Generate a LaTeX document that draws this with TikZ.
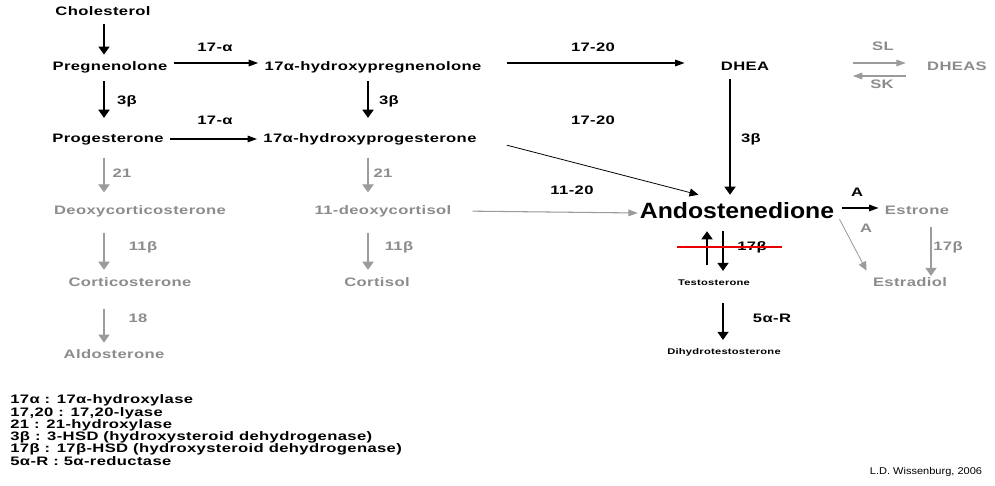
\documentclass[tikz,border=0pt]{standalone}
\usepackage{fontspec}
\setmainfont{Liberation Sans}
\newfontfamily\labelfont[FakeStretch=1.35,LetterSpace=3]{Liberation Sans}
\newfontfamily\bigfont[FakeStretch=1.12]{Liberation Sans}
\newfontfamily\creditfont[FakeStretch=1.12]{Liberation Sans}
\usetikzlibrary{arrows.meta}
\definecolor{fadetext}{RGB}{140,140,140}
\definecolor{fadeline}{RGB}{155,155,155}
\definecolor{strikered}{RGB}{235,0,0}
\tikzset{
  chem/.style={font=\labelfont\bfseries\fontsize{7}{8}\selectfont, inner sep=3.5pt, text height=5.2pt, text depth=1.5pt},
  fadechem/.style={chem, text=fadetext},
  bigchem/.style={font=\bigfont\bfseries\fontsize{12.6}{14}\selectfont, inner xsep=1pt, inner ysep=4.2pt, text height=9.3pt, text depth=2.7pt},
  smallchem/.style={font=\labelfont\bfseries\fontsize{4.7}{5.5}\selectfont, inner sep=2.5pt, text height=3.4pt, text depth=1pt},
  enz/.style={font=\labelfont\bfseries\fontsize{7}{8}\selectfont, inner sep=0pt, text height=5.2pt, text depth=1.5pt},
  fadeenz/.style={enz, text=fadetext},
  keyline/.style={font=\labelfont\bfseries\fontsize{7}{8}\selectfont, inner sep=0pt, anchor=west},
  credit/.style={font=\creditfont\fontsize{5.6}{6.5}\selectfont, inner sep=0pt},
  % the picture is stretched sideways, so down and across heads differ
  arr/.style={line width=0.6pt, -{Triangle[length=4.6pt,width=6.4pt]}},
  harr/.style={line width=0.6pt, -{Triangle[length=5.4pt,width=3.8pt]}},
  thinarr/.style={line width=0.45pt, -{Triangle[length=5pt,width=4.6pt]}},
  fadearr/.style={arr, draw=fadeline, fill=fadeline},
  fadeharr/.style={harr, draw=fadeline, fill=fadeline},
  fadethinarr/.style={thinarr, draw=fadeline, fill=fadeline},
  strike/.style={line width=1.2pt, strikered}
}
\begin{document}
\begin{tikzpicture}[x=0.02cm, y=-0.02cm]
    \useasboundingbox[fill=white] (0,0) rectangle (995,486);

    % columns and rows the arrows run on
    \coordinate (colA) at (104,0);
    \coordinate (colB) at (368,0);
    \coordinate (colD) at (730,0);
    \coordinate (colUp) at (707,0);
    \coordinate (colDown) at (723,0);
    \coordinate (colE) at (931,0);
    \coordinate (rowA) at (0,63);
    \coordinate (rowSK) at (0,76);
    \coordinate (rowAE) at (0,208);

    % steroids
    \node[chem] (chol) at (103,12) {Cholesterol};
    \node[chem] (preg) at (110,67) {Pregnenolone};
    \node[chem] (ohpreg) at (373,67) {17α-hydroxypregnenolone};
    \node[chem] (dhea) at (745,67) {DHEA};
    \node[fadechem] (dheas) at (957,67) {DHEAS};
    \node[chem] (prog) at (108,139) {Progesterone};
    \node[chem] (ohprog) at (370,139) {17α-hydroxyprogesterone};
    \node[fadechem] (doc) at (140,211) {Deoxycorticosterone};
    \node[fadechem] (deoxycort) at (383,211) {11-deoxycortisol};
    \node[bigchem] (andro) at (737,213) {Andostenedione};
    \node[fadechem] (estrone) at (917,211) {Estrone};
    \node[fadechem] (cortico) at (130,283) {Corticosterone};
    \node[fadechem] (cortisol) at (377,283) {Cortisol};
    \node[smallchem] (testo) at (714,283) {Testosterone};
    \node[fadechem] (estradiol) at (910,283) {Estradiol};
    \node[fadechem] (aldo) at (114,355) {Aldosterone};
    \node[smallchem] (dht) at (724,352) {Dihydrotestosterone};

    % enzymes
    \node[enz] (hydA) at (215,48) {17-α};
    \node[enz] (hydB) at (215,121) {17-α};
    \node[enz] (hsdA) at (127,101) {3β};
    \node[enz] (hsdB) at (389,101) {3β};
    \node[enz] (lyaseA) at (593,48) {17-20};
    \node[enz] (lyaseB) at (593,121) {17-20};
    \node[enz] (hsdC) at (751,139) {3β};
    \node[fadeenz] (sl) at (883,47) {SL};
    \node[fadeenz] (sk) at (882,85) {SK};
    \node[fadeenz] (hyd21A) at (122,174) {21};
    \node[fadeenz] (hyd21B) at (383,174) {21};
    \node[fadeenz] (hyd11A) at (143,247) {11β};
    \node[fadeenz] (hyd11B) at (399,247) {11β};
    \node[fadeenz] (hyd18) at (138,319) {18};
    \node[enz] (lyaseC) at (572,191) {11-20};
    \node[enz] (aromA) at (857,193) {A};
    \node[fadeenz] (aromB) at (866,229) {A};
    \node[fadeenz] (hsd17A) at (948,247) {17β};
    \node[enz] (hsd17B) at (752,247) {17β};
    \node[enz] (red5a) at (772,319) {5α-R};

    % black pathway
    \draw[arr] (chol.south -| colA) -- (preg.north -| colA);
    \draw[arr, shorten <=1pt, shorten >=5pt] (preg.south -| colA) -- (prog.north -| colA);
    \draw[arr, shorten <=1pt, shorten >=5pt] (ohpreg.south -| colB) -- (ohprog.north -| colB);
    \draw[harr] (preg.east |- rowA) -- (ohpreg.west |- rowA);
    \draw[harr, shorten <=11pt, shorten >=17pt] (ohpreg.east |- rowA) -- (dhea.west |- rowA);
    \draw[harr] (prog.east) -- (ohprog.west);
    \draw[thinarr, shorten <=14pt] (ohprog.east) -- ([xshift=-22pt]andro.north);
    \draw[arr] (dhea.south -| colD) -- (andro.north -| colD);
    \draw[harr, shorten <=3.5pt] (andro.east |- rowAE) -- (estrone.west |- rowAE);
    \draw[arr, shorten <=5.5pt] (testo.north -| colUp) -- (andro.south -| colUp);
    \draw[arr, shorten >=2pt] (andro.south -| colDown) -- (testo.north -| colDown);
    \draw[arr, shorten <=6.5pt, shorten >=2pt] (testo.south -| colDown) -- (dht.north -| colDown);

    % grey pathway
    \draw[fadeharr, shorten <=44pt, shorten >=8.5pt] (dhea.east |- rowA) -- (dheas.west |- rowA);
    \draw[fadeharr, shorten <=8.5pt, shorten >=44pt] (dheas.west |- rowSK) -- (dhea.east |- rowSK);
    \draw[fadearr, shorten <=3.5pt, shorten >=3.5pt] (prog.south -| colA) -- (doc.north -| colA);
    \draw[fadearr, shorten <=3.5pt, shorten >=3.5pt] (ohprog.south -| colB) -- (deoxycort.north -| colB);
    \draw[fadearr, shorten <=5.5pt, shorten >=0.5pt] (doc.south -| colA) -- (cortico.north -| colA);
    \draw[fadearr, shorten <=5.5pt, shorten >=0.5pt] (deoxycort.south -| colB) -- (cortisol.north -| colB);
    \draw[fadearr, shorten <=8pt] (cortico.south -| colA) -- (aldo.north -| colA);
    \draw[fadeharr, shorten <=8.5pt] (deoxycort.east) -- (andro.west);
    \draw[fadethinarr, shorten <=4pt] (andro.east) -- (estradiol.north west);
    \draw[fadearr, shorten <=2pt, shorten >=-3pt] (estrone.south -| colE) -- (estradiol.north -| colE);

    % blocked step
    \draw[strike] (hsd17B.center) ++(-75,0) -- ++(105,0);

    % key
    \node[keyline] (keyA) at (10,400) {17α : 17α-hydroxylase};
    \node[keyline] (keyB) at (10,413) {17,20 : 17,20-lyase};
    \node[keyline] (keyC) at (10,425) {21 : 21-hydroxylase};
    \node[keyline] (keyD) at (10,437) {3β : 3-HSD (hydroxysteroid dehydrogenase)};
    \node[keyline] (keyE) at (10,449) {17β : 17β-HSD (hydroxysteroid dehydrogenase)};
    \node[keyline] (keyF) at (10,461) {5α-R : 5α-reductase};

    \node[credit] (credit) at (926,472) {L.D. Wissenburg, 2006};
\end{tikzpicture}
\end{document}
